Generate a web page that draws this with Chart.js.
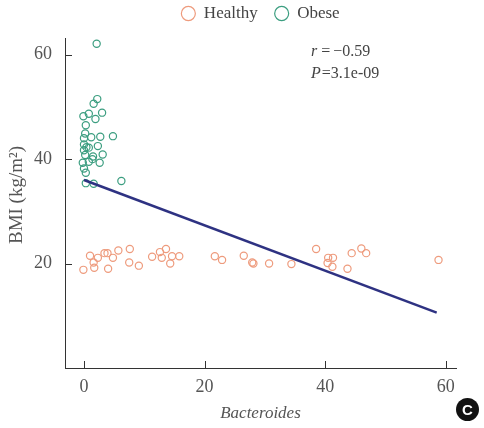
<!DOCTYPE html>
<html>
<head>
<meta charset="utf-8">
<script src="https://cdn.jsdelivr.net/npm/chart.js@4.4.1/dist/chart.umd.min.js"></script>
<style>
    html, body { margin: 0; padding: 0; background: #fff; }
    #wrap { position: relative; width: 484px; height: 428px; }
    #badge {
        position: absolute; left: 456px; top: 398px; width: 23px; height: 23px;
        border-radius: 50%; background: #111; color: #fff;
        font: bold 15px "Liberation Sans", Arial, sans-serif;
        text-align: center; line-height: 23px;
    }
</style>
</head>
<body>
<div id="wrap">
    <canvas id="chart" width="484" height="428"></canvas>
    <div id="badge">C</div>
</div>
<script>
// Healthy grubu (Bacteroides %, BMI)
const healthyX = [-0.1, 1.0, 1.6, 1.7, 2.3, 3.4, 3.9, 4.0, 4.8, 5.7, 7.6, 7.5, 9.1, 11.3, 12.6, 13.6, 12.9,
    14.6, 14.3, 15.8, 21.7, 22.9, 26.5, 27.9, 28.1, 30.7, 34.4, 38.5, 40.5, 41.3, 40.4, 41.2, 43.7,
    44.4, 46.0, 46.8, 58.8];
const healthyY = [18.8, 21.5, 20.2, 19.2, 21.1, 22.0, 22.0, 19.0, 21.1, 22.5, 22.8, 20.2, 19.6, 21.3, 22.2, 22.8, 21.1,
    21.4, 20.0, 21.4, 21.4, 20.7, 21.5, 20.2, 20.0, 20.0, 19.9, 22.8, 21.1, 21.1, 20.1, 19.4, 19.0,
    22.0, 22.9, 22.0, 20.7];

// Obese grubu
const obeseX = [2.1, 2.2, 1.6, 3.0, 0.8, -0.1, 1.9, 0.3, 0.2, 1.2, 2.7, 4.8, 0.0, 0.0, 2.3, 0.4, 0.8,
    0.0, 3.1, 0.2, 1.5, 1.4, 0.8, 2.6, -0.2, 0.0, 0.3, 0.3, 1.6, 6.2];
const obeseY = [62.1, 51.5, 50.6, 48.9, 48.7, 48.2, 47.7, 46.5, 44.9, 44.2, 44.3, 44.4, 44.0, 42.8, 42.5, 42.3, 42.2,
    41.7, 40.9, 40.8, 40.5, 40.0, 39.5, 39.3, 39.3, 38.2, 37.4, 35.4, 35.3, 35.8];

// Regresyon doğrusu uçları
const fitX = [0, 58.5];
const fitY = [36.0, 10.6];

// Eksen işaretleri
const xTicks = [0, 20, 40, 60];
const yTicks = [20, 40, 60];

const zip = (xs, ys) => xs.map((x, i) => ({ x: x, y: ys[i] }));

const serif = '"Liberation Serif", "Times New Roman", serif';
Chart.defaults.font.family = serif;
Chart.defaults.font.size = 17;
Chart.defaults.color = '#555';

// Lejant yüksekliğini sabitle, çizim alanının üstüne ortala
const legendFit = {
    id: 'legendFit',
    beforeInit(chart) {
        const fit = chart.legend.fit;
        chart.legend.fit = function () {
            fit.bind(chart.legend)();
            this.height = 38;
        };
    },
    afterLayout(chart) {
        const lg = chart.legend;
        lg.top = -12;
        lg.left = chart.chartArea.left;
        lg.right = chart.chartArea.right;
    }
};

// İçe dönük tick çizgileri, y başlığı ve istatistik metni
const extras = {
    id: 'extras',
    afterDraw(chart) {
        const ctx = chart.ctx;
        const xs = chart.scales.x, ys = chart.scales.y;
        ctx.save();
        ctx.strokeStyle = '#333';
        ctx.lineWidth = 1;
        ctx.beginPath();
        xTicks.forEach(v => {
            const px = Math.round(xs.getPixelForValue(v)) + 0.5;
            ctx.moveTo(px, ys.bottom);
            ctx.lineTo(px, ys.bottom - 7);
        });
        yTicks.forEach(v => {
            const py = Math.round(ys.getPixelForValue(v)) + 0.5;
            ctx.moveTo(xs.left, py);
            ctx.lineTo(xs.left + 7, py);
        });
        ctx.stroke();

        // Y ekseni başlığı
        ctx.fillStyle = '#555';
        ctx.font = '19px ' + serif;
        ctx.textAlign = 'center';
        ctx.textBaseline = 'middle';
        ctx.translate(17, 195);
        ctx.rotate(-Math.PI / 2);
        ctx.fillText('BMI (kg/m²)', 0, 0);
        ctx.restore();

        // r ve P değerleri
        ctx.save();
        ctx.fillStyle = '#444';
        ctx.textBaseline = 'alphabetic';
        const lines = [['r', ['=', '\u22120.59'], 56, 3], ['P', ['=3.1e-09'], 78, 0]];
        lines.forEach(([v, parts, y, gap]) => {
            let x = 311;
            ctx.font = 'italic 16px ' + serif;
            ctx.fillText(v, x, y);
            x += ctx.measureText(v).width + 1;
            ctx.font = '16px ' + serif;
            parts.forEach(p => {
                x += gap;
                ctx.fillText(p, x, y);
                x += ctx.measureText(p).width;
            });
        });
        ctx.restore();
    }
};

new Chart(document.getElementById('chart'), {
    type: 'scatter',
    data: {
        datasets: [{
            label: 'Healthy',
            data: zip(healthyX, healthyY),
            borderColor: '#EE9B7D',
            backgroundColor: 'rgba(0,0,0,0)',
            pointRadius: 3.6,
            borderWidth: 1.2,
            order: 1
        }, {
            label: 'Obese',
            data: zip(obeseX, obeseY),
            borderColor: '#3C9E80',
            backgroundColor: 'rgba(0,0,0,0)',
            pointRadius: 3.6,
            borderWidth: 1.2,
            order: 1
        }, {
            label: 'fit',
            data: zip(fitX, fitY),
            showLine: true,
            borderColor: '#2E3282',
            borderWidth: 2.5,
            pointRadius: 0,
            order: 0
        }]
    },
    options: {
        responsive: false,
        animation: false,
        layout: { padding: { left: 0, right: 28, top: 0, bottom: 0 } },
        plugins: {
            tooltip: { enabled: false },
            legend: {
                position: 'top',
                labels: {
                    filter: item => item.text !== 'fit',
                    usePointStyle: true,
                    pointStyle: 'circle',
                    boxHeight: 10,
                    pointStyleWidth: 14,
                    padding: 17,
                    color: '#444',
                    font: { size: 17 }
                }
            }
        },
        scales: {
            x: {
                type: 'linear',
                min: -3.15,
                max: 61.7,
                afterFit: s => { s.height = 60; },
                afterBuildTicks: s => { s.ticks = xTicks.map(v => ({ value: v })); },
                grid: { drawOnChartArea: false, drawTicks: false },
                border: { color: '#333', width: 1 },
                ticks: { padding: 8, color: '#555', font: { size: 18 } },
                title: {
                    display: true,
                    text: 'Bacteroides',
                    color: '#555',
                    font: { style: 'italic', size: 17 },
                    padding: { top: 0, bottom: 4 }
                }
            },
            y: {
                type: 'linear',
                min: 0,
                max: 63.2,
                afterFit: s => { s.width = 65; },
                afterBuildTicks: s => { s.ticks = yTicks.map(v => ({ value: v })); },
                grid: { drawOnChartArea: false, drawTicks: false },
                border: { color: '#333', width: 1 },
                ticks: { padding: 13, color: '#555', font: { size: 18 } }
            }
        }
    },
    plugins: [legendFit, extras]
});
</script>
</body>
</html>
